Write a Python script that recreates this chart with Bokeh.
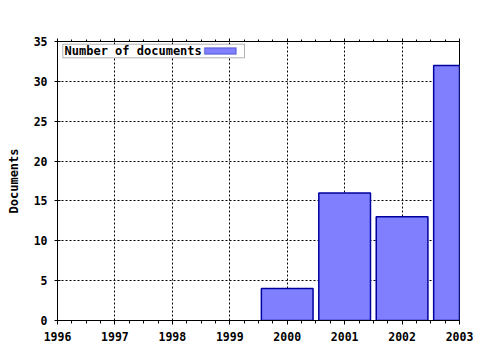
from bokeh.plotting import figure
from bokeh.models import FixedTicker, LinearAxis, BoxAnnotation, Label, Range1d
from bokeh.embed import file_html
from bokeh.resources import INLINE

years = [2000, 2001, 2002, 2003]
documents = [4, 16, 13, 32]
x_ticks = [1996, 1997, 1998, 1999, 2000, 2001, 2002, 2003]
y_ticks = [0, 5, 10, 15, 20, 25, 30, 35]
series_name = "Number of documents"
y_title = "Documents"

FONT = "DejaVu Sans Mono"
FILL = "#8080ff"
EDGE = "#0000a0"

p = figure(width=480, height=350, output_backend="svg", toolbar_location=None,
           x_range=Range1d(1996, 2003), y_range=Range1d(0, 35),
           min_border_left=57, min_border_right=21, min_border_top=41, min_border_bottom=30,
           x_axis_location="below")
p.background_fill_color = "white"
p.border_fill_color = "white"
p.outline_line_color = "black"
p.outline_line_width = 1

p.vbar(x=years, top=documents, width=0.9, fill_color=FILL, line_color=EDGE, line_width=1.5)

minor = [1996 + i * 0.25 for i in range(29)]
xt = FixedTicker(ticks=x_ticks, minor_ticks=minor)
p.xaxis.ticker = xt
p.yaxis.ticker = FixedTicker(ticks=y_ticks)

for ax in (p.xaxis[0], p.yaxis[0]):
    ax.axis_line_color = "black"
    ax.major_tick_line_color = "black"
    ax.minor_tick_line_color = "black"
    ax.major_label_text_font = FONT
    ax.major_label_text_font_style = "bold"
    ax.major_label_text_font_size = "11.5px"
    ax.major_label_text_color = "black"

p.xaxis.major_tick_out = 4
p.xaxis.major_tick_in = 0
p.xaxis.minor_tick_out = 3
p.xaxis.minor_tick_in = 0
p.xaxis.major_label_standoff = 7

p.yaxis.major_tick_out = 3
p.yaxis.major_tick_in = 3
p.yaxis.minor_tick_line_color = None
p.yaxis.major_label_standoff = 7
p.yaxis.axis_label = y_title
p.yaxis.axis_label_text_font = FONT
p.yaxis.axis_label_text_font_style = "bold"
p.yaxis.axis_label_text_font_size = "12px"
p.yaxis.axis_label_text_color = "black"
p.yaxis.axis_label_standoff = 10

top_axis = LinearAxis(ticker=xt,
                      major_label_overrides={t: "" for t in x_ticks},
                      major_tick_out=3, major_tick_in=0, minor_tick_out=2, minor_tick_in=0,
                      axis_line_color="black", major_tick_line_color="black",
                      minor_tick_line_color="black", major_label_standoff=0)
p.add_layout(top_axis, "above")

p.xgrid.grid_line_color = "black"
p.xgrid.grid_line_dash = "2 2"
p.xgrid.grid_line_width = 1
p.ygrid.grid_line_color = "black"
p.ygrid.grid_line_dash = "2 2"
p.ygrid.grid_line_width = 1

# legend (swatch on the right, as in the reference)
p.add_layout(BoxAnnotation(left=1996.092, right=1999.256, bottom=32.955, top=34.66,
                           fill_color="white", fill_alpha=1, line_color="black", line_width=1))
p.add_layout(BoxAnnotation(left=1998.56, right=1999.112, bottom=33.41, top=34.21,
                           fill_color=FILL, fill_alpha=1, line_color=EDGE, line_width=1.5))
p.add_layout(Label(x=1996.122, y=33.78, text=series_name, text_font=FONT,
                   text_font_style="bold", text_font_size="12px", text_baseline="middle",
                   text_color="black"))

open("out.html", "w").write(file_html(p, INLINE))
